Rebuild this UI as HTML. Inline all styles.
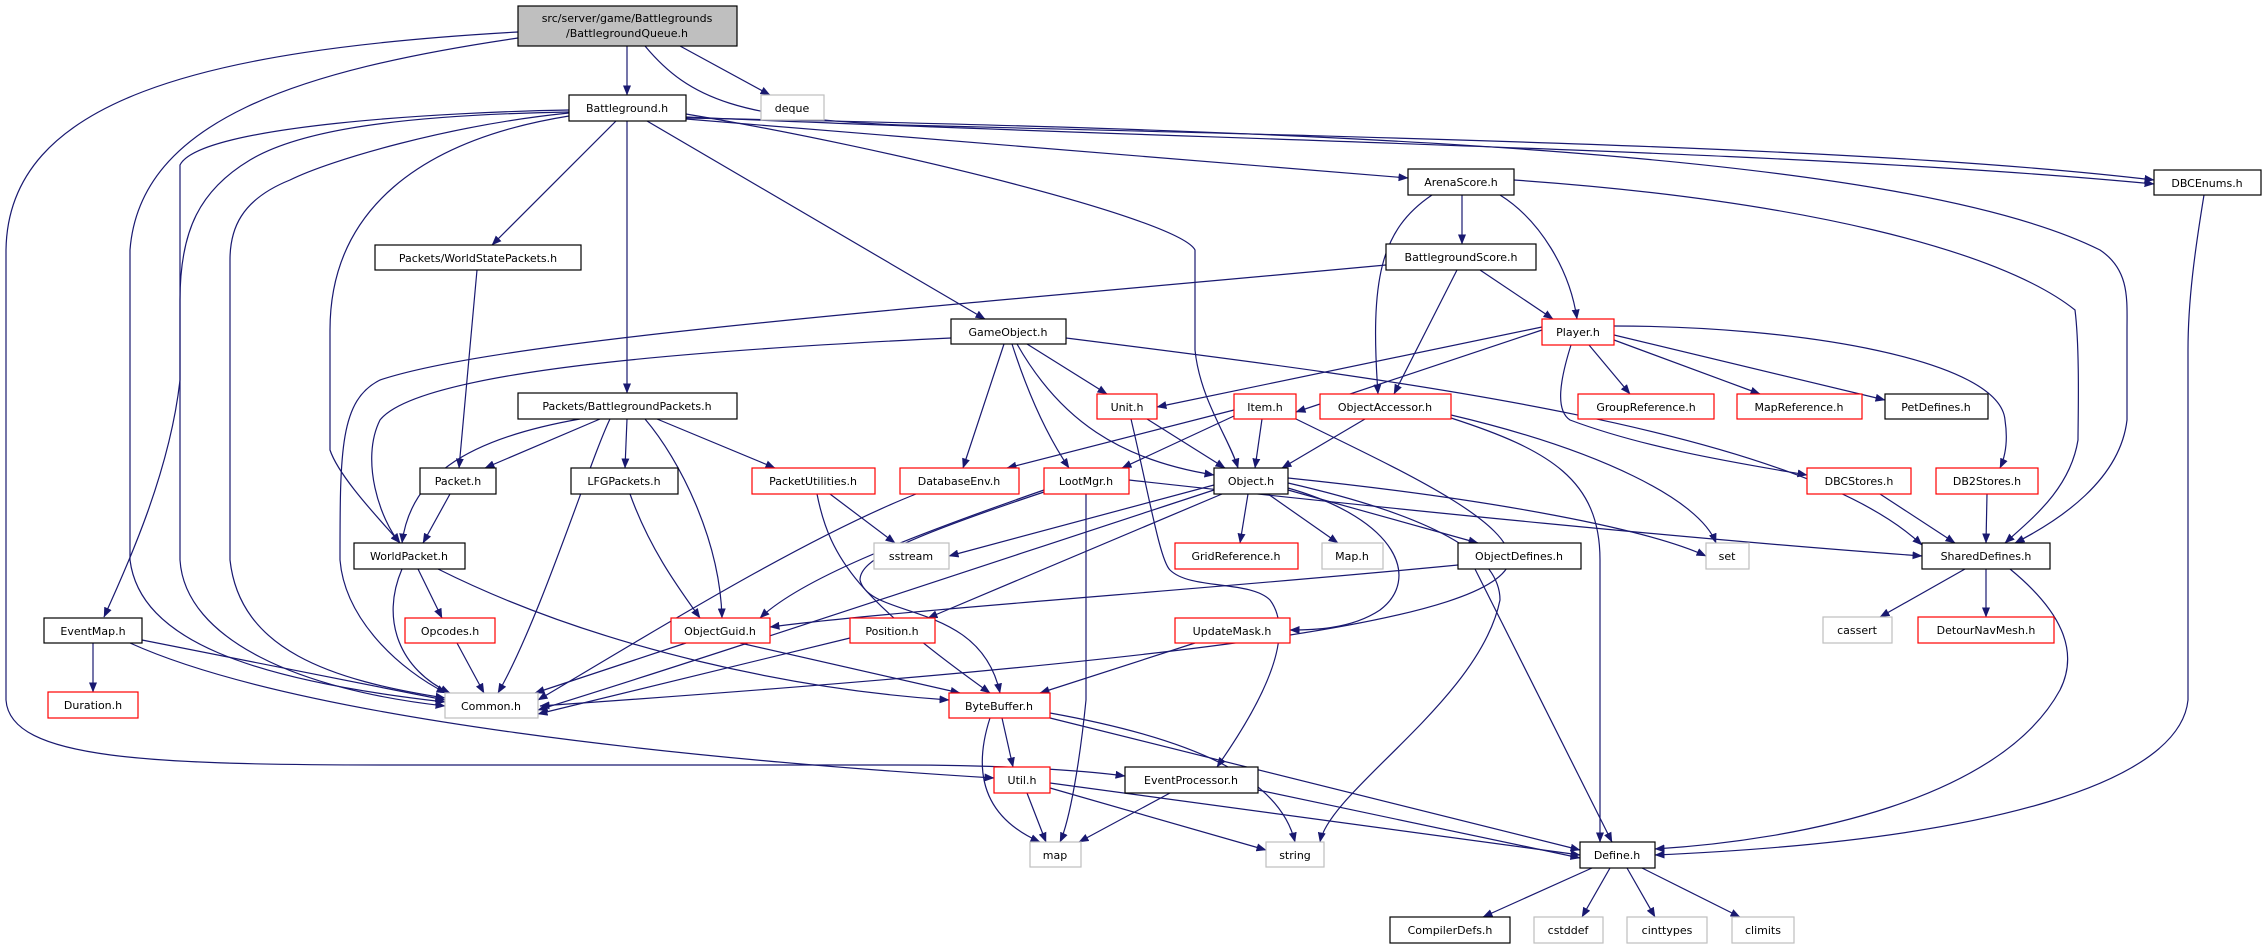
<!DOCTYPE html>
<html><head><meta charset="utf-8"><style>
html,body{margin:0;padding:0;background:#fff;}
svg{display:block;}
text{font-family:"DejaVu Sans","Liberation Sans",sans-serif;font-size:11px;fill:#000;text-anchor:middle;}
.e{fill:none;stroke:#191970;stroke-width:1.2;marker-end:url(#a);}
.nb{fill:#fff;stroke:#000;stroke-width:1.2;}
.nr{fill:#fff;stroke:#ff0000;stroke-width:1.2;}
.ng{fill:#fff;stroke:#bfbfbf;stroke-width:1.2;}
</style></head><body>
<svg width="2266" height="948" viewBox="0 0 2266 948" xmlns="http://www.w3.org/2000/svg">
<defs><marker id="a" markerWidth="10" markerHeight="8" refX="9.5" refY="4" orient="auto" markerUnits="userSpaceOnUse"><path d="M0,0 L10,4 L0,8 z" fill="#191970"/></marker></defs>
<path class="e" d="M627,46 L627,95"/>
<path class="e" d="M680,46 L770,95"/>
<path class="e" d="M645,46 C690,100 740,118 900,125 C1500,140 1900,150 2154,180"/>
<path class="e" d="M518,38 C300,70 140,120 130,250 L130,560 C140,640 250,680 445,702"/>
<path class="e" d="M518,32 C200,50 8,100 6,250 L6,700 C10,760 150,765 400,765 L900,765 C1000,765 1080,770 1125,776"/>
<path class="e" d="M616,121 L492,245"/>
<path class="e" d="M627,121 L627,393"/>
<path class="e" d="M647,121 L985,319"/>
<path class="e" d="M686,114 C900,150 1180,220 1195,250 L1195,350 C1200,400 1230,440 1238,468"/>
<path class="e" d="M686,119 L1408,178"/>
<path class="e" d="M686,117 C1200,140 1800,150 2154,184"/>
<path class="e" d="M686,118 C1300,130 1900,150 2100,250 C2130,270 2127,300 2127,330 L2127,420 C2120,480 2060,520 2015,543"/>
<path class="e" d="M569,112 C400,115 300,130 250,160 C200,190 180,230 180,300 L180,560 C185,640 300,690 445,706"/>
<path class="e" d="M569,113 C450,125 330,160 290,180 C240,200 230,230 230,260 L230,560 C240,650 330,680 445,698"/>
<path class="e" d="M569,116 C420,140 330,210 330,330 L330,450 C340,480 390,530 400,543"/>
<path class="e" d="M569,110 C450,112 200,125 180,165 L180,380 C170,470 130,560 104,617"/>
<path class="e" d="M477,270 L459,468"/>
<path class="e" d="M600,419 L485,468"/>
<path class="e" d="M627,419 L625,468"/>
<path class="e" d="M645,419 C680,460 720,540 722,618"/>
<path class="e" d="M657,419 L775,468"/>
<path class="e" d="M610,419 C590,460 540,620 498,693"/>
<path class="e" d="M580,419 C460,440 410,480 402,543"/>
<path class="e" d="M1386,265 C900,310 500,340 380,380 C340,400 340,450 340,560 C345,620 400,670 446,693"/>
<path class="e" d="M951,338 C700,350 420,370 380,420 C360,460 380,520 400,543"/>
<path class="e" d="M450,494 L423,543"/>
<path class="e" d="M630,494 C650,550 680,590 700,618"/>
<path class="e" d="M830,494 L895,543"/>
<path class="e" d="M817,494 C830,560 860,600 990,693"/>
<path class="e" d="M418,569 L442,618"/>
<path class="e" d="M402,569 C380,620 400,670 450,693"/>
<path class="e" d="M438,569 C600,650 800,690 949,700"/>
<path class="e" d="M93,643 L93,692"/>
<path class="e" d="M142,640 L445,700"/>
<path class="e" d="M130,643 C300,720 700,760 994,778"/>
<path class="e" d="M457,643 L484,693"/>
<path class="e" d="M686,643 L535,693"/>
<path class="e" d="M740,643 L960,693"/>
<path class="e" d="M916,494 C800,540 640,640 538,700"/>
<path class="e" d="M1044,490 C900,540 800,580 760,618"/>
<path class="e" d="M1044,492 C900,540 860,560 860,580 C870,620 980,600 1000,693"/>
<path class="e" d="M1086,494 L1086,700 C1080,760 1070,820 1060,842"/>
<path class="e" d="M1129,480 C1400,510 1700,540 1922,556"/>
<path class="e" d="M1004,344 L963,468"/>
<path class="e" d="M1012,344 C1030,400 1050,440 1069,468"/>
<path class="e" d="M1017,344 C1060,420 1120,460 1214,475"/>
<path class="e" d="M1027,344 L1107,394"/>
<path class="e" d="M1066,338 C1400,380 1800,430 1922,545"/>
<path class="e" d="M1147,419 L1225,468"/>
<path class="e" d="M1131,419 C1150,500 1160,560 1170,570 C1190,590 1250,580 1270,600 C1300,640 1250,720 1217,767"/>
<path class="e" d="M1262,419 L1255,468"/>
<path class="e" d="M1234,416 L1122,468"/>
<path class="e" d="M1234,410 L1007,468"/>
<path class="e" d="M1296,419 C1400,470 1510,520 1510,560 C1500,620 1200,660 540,706"/>
<path class="e" d="M1365,419 L1282,468"/>
<path class="e" d="M1451,415 C1600,450 1700,500 1716,543"/>
<path class="e" d="M1451,418 C1550,450 1600,480 1600,560 L1600,842"/>
<path class="e" d="M1462,195 L1462,244"/>
<path class="e" d="M1432,195 C1380,230 1370,280 1378,394"/>
<path class="e" d="M1500,195 C1540,220 1570,270 1577,319"/>
<path class="e" d="M1514,180 C1800,200 2000,250 2075,310 C2080,350 2078,420 2078,440 C2070,490 2030,520 2005,543"/>
<path class="e" d="M1457,270 L1394,394"/>
<path class="e" d="M1480,270 L1553,319"/>
<path class="e" d="M1542,327 L1157,407"/>
<path class="e" d="M1542,330 L1296,412"/>
<path class="e" d="M1589,345 L1630,394"/>
<path class="e" d="M1614,340 L1760,394"/>
<path class="e" d="M1614,335 L1885,400"/>
<path class="e" d="M1614,326 C1800,326 2000,360 2005,420 C2008,440 2006,455 2000,468"/>
<path class="e" d="M1571,345 C1560,380 1555,410 1570,420 C1650,450 1750,465 1807,475"/>
<path class="e" d="M1880,494 L1955,543"/>
<path class="e" d="M1987,494 L1986,543"/>
<path class="e" d="M2204,195 C2195,250 2188,300 2188,350 L2188,700 C2180,780 2000,840 1655,855"/>
<path class="e" d="M1965,569 L1880,617"/>
<path class="e" d="M1986,569 L1986,617"/>
<path class="e" d="M2010,569 C2060,610 2080,650 2060,690 C2000,800 1800,840 1655,849"/>
<path class="e" d="M1214,485 L949,556"/>
<path class="e" d="M1248,494 L1240,543"/>
<path class="e" d="M1268,494 L1338,543"/>
<path class="e" d="M1288,490 L1478,543"/>
<path class="e" d="M1288,478 C1500,500 1650,530 1706,556"/>
<path class="e" d="M1222,494 L928,618"/>
<path class="e" d="M1288,488 C1400,520 1420,580 1380,610 C1350,630 1310,630 1290,630"/>
<path class="e" d="M1288,483 C1450,520 1500,560 1500,600 C1480,700 1330,790 1320,842"/>
<path class="e" d="M1214,490 C1000,560 700,660 538,710"/>
<path class="e" d="M1458,565 C1200,590 900,610 770,627"/>
<path class="e" d="M1475,569 L1612,842"/>
<path class="e" d="M850,638 L538,714"/>
<path class="e" d="M1195,643 L1040,693"/>
<path class="e" d="M1002,718 L1013,767"/>
<path class="e" d="M990,718 C970,780 990,820 1040,842"/>
<path class="e" d="M1050,713 C1200,740 1280,780 1295,842"/>
<path class="e" d="M1050,718 L1580,850"/>
<path class="e" d="M1027,793 L1046,842"/>
<path class="e" d="M1050,788 L1266,850"/>
<path class="e" d="M1050,783 L1580,855"/>
<path class="e" d="M1170,793 L1079,842"/>
<path class="e" d="M1258,790 L1580,858"/>
<path class="e" d="M1592,868 L1483,917"/>
<path class="e" d="M1610,868 L1582,917"/>
<path class="e" d="M1627,868 L1655,917"/>
<path class="e" d="M1642,868 L1740,917"/>
<rect x="518" y="6" width="219" height="40" fill="#bfbfbf" stroke="#000" stroke-width="1.2"/>
<text x="627" y="22">src/server/game/Battlegrounds</text><text x="627" y="37">/BattlegroundQueue.h</text>
<rect class="nb" x="569" y="95" width="117" height="26"/><text x="627" y="112">Battleground.h</text>
<rect class="ng" x="761" y="95" width="63" height="25"/><text x="792" y="112">deque</text>
<rect class="nb" x="2154" y="170" width="107" height="25"/><text x="2207" y="187">DBCEnums.h</text>
<rect class="nb" x="1408" y="169" width="106" height="26"/><text x="1461" y="186">ArenaScore.h</text>
<rect class="nb" x="375" y="245" width="206" height="25"/><text x="478" y="262">Packets/WorldStatePackets.h</text>
<rect class="nb" x="1386" y="244" width="150" height="26"/><text x="1461" y="261">BattlegroundScore.h</text>
<rect class="nb" x="951" y="319" width="115" height="25"/><text x="1008" y="336">GameObject.h</text>
<rect class="nr" x="1542" y="319" width="72" height="26"/><text x="1578" y="336">Player.h</text>
<rect class="nb" x="518" y="393" width="219" height="26"/><text x="627" y="410">Packets/BattlegroundPackets.h</text>
<rect class="nr" x="1097" y="394" width="60" height="25"/><text x="1127" y="411">Unit.h</text>
<rect class="nr" x="1234" y="394" width="62" height="25"/><text x="1265" y="411">Item.h</text>
<rect class="nr" x="1320" y="394" width="131" height="25"/><text x="1385" y="411">ObjectAccessor.h</text>
<rect class="nr" x="1578" y="394" width="136" height="25"/><text x="1646" y="411">GroupReference.h</text>
<rect class="nr" x="1737" y="394" width="125" height="25"/><text x="1799" y="411">MapReference.h</text>
<rect class="nb" x="1885" y="394" width="103" height="25"/><text x="1936" y="411">PetDefines.h</text>
<rect class="nb" x="420" y="468" width="76" height="26"/><text x="458" y="485">Packet.h</text>
<rect class="nb" x="571" y="468" width="107" height="26"/><text x="624" y="485">LFGPackets.h</text>
<rect class="nr" x="752" y="468" width="123" height="26"/><text x="813" y="485">PacketUtilities.h</text>
<rect class="nr" x="900" y="468" width="119" height="26"/><text x="959" y="485">DatabaseEnv.h</text>
<rect class="nr" x="1044" y="468" width="85" height="26"/><text x="1086" y="485">LootMgr.h</text>
<rect class="nb" x="1214" y="468" width="74" height="26" stroke-width="1.6"/><text x="1251" y="485">Object.h</text>
<rect class="nr" x="1807" y="468" width="104" height="26"/><text x="1859" y="485">DBCStores.h</text>
<rect class="nr" x="1936" y="468" width="102" height="26"/><text x="1987" y="485">DB2Stores.h</text>
<rect class="nb" x="354" y="543" width="111" height="26"/><text x="409" y="560">WorldPacket.h</text>
<rect class="ng" x="874" y="543" width="75" height="26"/><text x="911" y="560">sstream</text>
<rect class="nr" x="1175" y="543" width="123" height="26"/><text x="1236" y="560">GridReference.h</text>
<rect class="ng" x="1322" y="543" width="61" height="26"/><text x="1352" y="560">Map.h</text>
<rect class="nb" x="1458" y="543" width="123" height="26"/><text x="1519" y="560">ObjectDefines.h</text>
<rect class="ng" x="1706" y="543" width="43" height="26"/><text x="1727" y="560">set</text>
<rect class="nb" x="1922" y="543" width="128" height="26"/><text x="1986" y="560">SharedDefines.h</text>
<rect class="nb" x="44" y="618" width="98" height="25"/><text x="93" y="635">EventMap.h</text>
<rect class="nr" x="405" y="618" width="90" height="25"/><text x="450" y="635">Opcodes.h</text>
<rect class="nr" x="671" y="618" width="99" height="25"/><text x="720" y="635">ObjectGuid.h</text>
<rect class="nr" x="850" y="618" width="85" height="25"/><text x="892" y="635">Position.h</text>
<rect class="nr" x="1175" y="618" width="115" height="25"/><text x="1232" y="635">UpdateMask.h</text>
<rect class="ng" x="1823" y="617" width="69" height="26"/><text x="1857" y="634">cassert</text>
<rect class="nr" x="1918" y="617" width="136" height="26"/><text x="1986" y="634">DetourNavMesh.h</text>
<rect class="nr" x="48" y="692" width="90" height="26"/><text x="93" y="709">Duration.h</text>
<rect class="ng" x="445" y="693" width="93" height="25"/><text x="491" y="710">Common.h</text>
<rect class="nr" x="949" y="693" width="101" height="25"/><text x="999" y="710">ByteBuffer.h</text>
<rect class="nr" x="994" y="767" width="56" height="26"/><text x="1022" y="784">Util.h</text>
<rect class="nb" x="1125" y="767" width="133" height="26"/><text x="1191" y="784">EventProcessor.h</text>
<rect class="ng" x="1030" y="842" width="51" height="25"/><text x="1055" y="859">map</text>
<rect class="ng" x="1266" y="842" width="58" height="25"/><text x="1295" y="859">string</text>
<rect class="nb" x="1580" y="842" width="75" height="26"/><text x="1617" y="859">Define.h</text>
<rect class="nb" x="1390" y="917" width="120" height="26"/><text x="1450" y="934">CompilerDefs.h</text>
<rect class="ng" x="1534" y="917" width="69" height="26"/><text x="1568" y="934">cstddef</text>
<rect class="ng" x="1627" y="917" width="80" height="26"/><text x="1667" y="934">cinttypes</text>
<rect class="ng" x="1732" y="917" width="62" height="26"/><text x="1763" y="934">climits</text>
</svg>
</body></html>
